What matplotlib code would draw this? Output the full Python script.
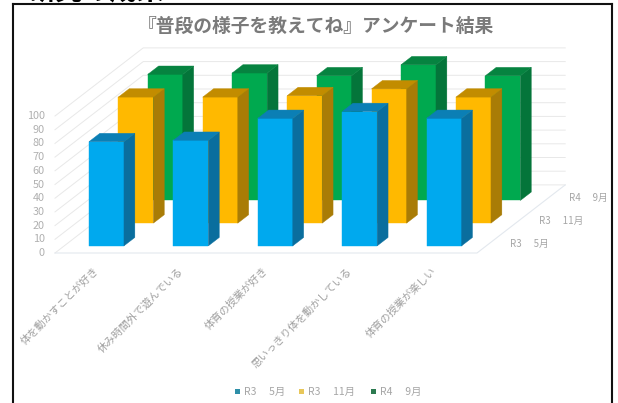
import matplotlib
matplotlib.use("Agg")
import matplotlib.pyplot as plt
from matplotlib.patches import Polygon, Rectangle

plt.rcParams['font.family'] = ['Noto Sans CJK JP', 'DejaVu Sans']

categories = ['体を動かすことが好き', '休み時間外で遊んでいる', '体育の授業が好き',
              '思いっきり体を動かしている', '体育の授業が楽しい']
series_names = ['R3\u3000 5月', 'R3\u3000 11月', 'R4\u3000 9月']
r3_may = [76, 77, 93, 98, 93]
r3_nov = [92, 92, 93, 98, 92]
r4_sep = [92, 93, 91, 99, 91]
value_ticks = list(range(0, 101, 10))
series_values = [r3_may, r3_nov, r4_sep]

# (front, side, top) shades of each series
shades = [('#00A9EE', '#0A6E9E', '#0B7FB5'),
          ('#FFB900', '#A97C06', '#C28C00'),
          ('#00A94F', '#04753A', '#068340')]
legend_colors = ['#2E8FA8', '#E8C75A', '#2C7A50']

W, H = 618, 403
fig = plt.figure(figsize=(W / 100, H / 100), dpi=100)
ax = fig.add_axes([0, 0, 1, 1])

# Axes units: one category per unit along x, percent along y.
CAT_PX = 84.4
VAL_PX = 1.37
ORIGIN_X, ORIGIN_Y = 55, 253
ax.set_xlim(-ORIGIN_X / CAT_PX, (W - ORIGIN_X) / CAT_PX)
ax.set_ylim((ORIGIN_Y - H) / VAL_PX, ORIGIN_Y / VAL_PX)
ax.axis('off')

# Oblique projection: one series slot of depth shifts right and up.
SKEW_X = 29.4 / CAT_PX
SKEW_Y = 22.7 / VAL_PX
N_DEPTH = len(series_values)
N_CATS = len(categories)


def project(cat, value, depth):
    return cat + depth * SKEW_X, value + depth * SKEW_Y


GRID = '#E8E8E8'
for v in value_ticks:
    x0, y0 = project(0, v, 0)
    x1, y1 = project(0, v, N_DEPTH)
    x2, y2 = project(N_CATS, v, N_DEPTH)
    ax.plot([x0, x1, x2], [y0, y1, y2], color=GRID, lw=0.7, zorder=1)
    ax.text(x0 - 0.12, y0, str(v), ha='right', va='center', fontsize=7.8, color='#B0B0B0')

# Floor outline along the front and the right edge
fx0, fy0 = project(0, 0, 0)
fx1, fy1 = project(N_CATS, 0, 0)
fx2, fy2 = project(N_CATS, 0, N_DEPTH)
ax.plot([fx0, fx1, fx2], [fy0, fy1, fy2], color='#E3E8EE', lw=0.8, zorder=1)

BAR_W = 0.415
BAR_D = 0.37


def draw_bar(cat, value, depth, colors, z):
    left = cat + 0.5 - BAR_W / 2
    right = left + BAR_W
    d0 = depth + 0.5 - BAR_D / 2
    d1 = d0 + BAR_D
    front = [project(left, 0, d0), project(right, 0, d0),
             project(right, value, d0), project(left, value, d0)]
    side = [project(right, 0, d0), project(right, 0, d1),
            project(right, value, d1), project(right, value, d0)]
    top = [project(left, value, d0), project(right, value, d0),
           project(right, value, d1), project(left, value, d1)]
    for pts, c in zip((front, side, top), colors):
        ax.add_patch(Polygon(pts, closed=True, facecolor=c, edgecolor=c, lw=0.3, zorder=z))


# Paint back row first, and left to right within a row
for depth in reversed(range(N_DEPTH)):
    for cat, value in enumerate(series_values[depth]):
        draw_bar(cat, value, depth, shades[depth], 10 + (N_DEPTH - depth) * 10 + cat)

# Category labels, slanted and ending just under the floor
for i, name in enumerate(categories):
    x, y = project(i + 0.5, 0, 0)
    ax.annotate(name, (x, y), xytext=(-2.5, -9), textcoords='offset points',
                rotation=45, rotation_mode='anchor', ha='right', va='top',
                fontsize=7.6, color='#A0A0A0')

# Series labels next to the right floor edge
for d, name in enumerate(series_names):
    x, y = project(N_CATS, 0, d + 0.5)
    ax.annotate(name, (x, y), xytext=(13, -1.5), textcoords='offset points',
                ha='left', va='center', fontsize=7, color='#A6A6A6')

ax.text(315.5 / W, 1 - 26 / H, '『普段の様子を教えてね』アンケート結果', transform=ax.transAxes,
        ha='center', va='center', fontsize=13.5, fontweight='bold', color='#7A7A7A')

# Legend row
legend_xs = [237, 301, 373]
for lx, name, c in zip(legend_xs, series_names, legend_colors):
    ax.add_patch(Rectangle(((lx - 2) / W, 1 - 394 / H), 5 / W, 5 / H, transform=ax.transAxes,
                           facecolor=c, edgecolor='none', zorder=5))
    ax.text((lx + 7) / W, 1 - 391.5 / H, name, transform=ax.transAxes, ha='left', va='center',
            fontsize=7.5, color='#A6A6A6')

# Frame of the pasted chart, open at the bottom
frame = '#111111'
for xs, ys in (([12.5, 12.5], [3.5, 403]), ([611.5, 611.5], [3.5, 403]), ([12.5, 611.5], [3.5, 3.5])):
    fig.add_artist(plt.Line2D([x / W for x in xs], [1 - y / H for y in ys], color=frame, lw=1.5))

# Heading sitting above the frame, its upper part beyond the top edge
fig.text(28 / W, 1 + 0.5 / H, '研究の成果', ha='left', va='baseline', fontsize=19.5,
         fontweight='bold', color='black')

fig.savefig('out.png', dpi=100)
